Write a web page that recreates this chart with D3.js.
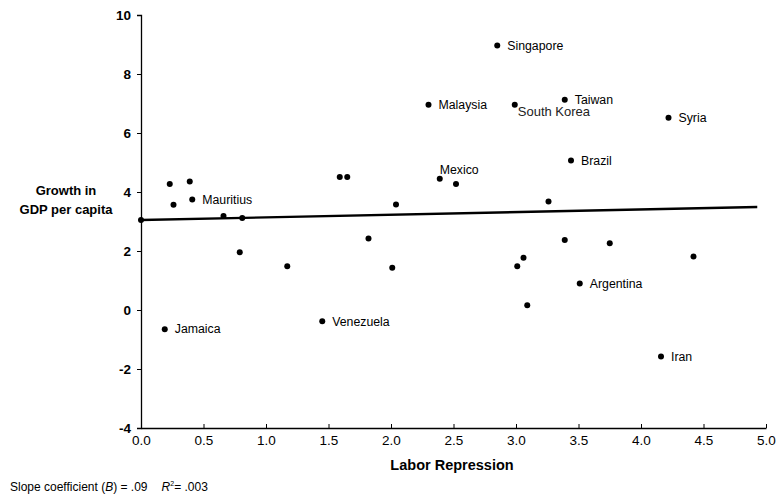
<!DOCTYPE html>
<html>
<head>
<meta charset="utf-8">
<script src="https://cdn.jsdelivr.net/npm/d3@7"></script>
<style>
  body { margin: 0; background: #fff; }
  svg { display: block; font-family: Arial, "Liberation Sans", sans-serif; }
</style>
</head>
<body>
<div id="chart"></div>
<script>
// Labor repression (x) vs growth in GDP per capita (y)
const laborRepression = [0.00, 0.23, 0.26, 0.39, 0.41, 0.66, 0.81, 0.79, 0.19, 1.17, 1.45, 1.59, 1.65, 1.82, 2.01, 2.04, 2.30, 2.39, 2.52, 2.85, 2.99, 3.01, 3.06, 3.09, 3.26, 3.39, 3.39, 3.44, 3.51, 3.75, 4.16, 4.22, 4.42];
const gdpGrowth      = [3.05, 4.27, 3.57, 4.36, 3.75, 3.19, 3.12, 1.96, -0.65, 1.48, -0.38, 4.51, 4.51, 2.42, 1.43, 3.58, 6.96, 4.45, 4.27, 8.97, 6.96, 1.48, 1.77, 0.16, 3.68, 7.13, 2.37, 5.07, 0.90, 2.26, -1.58, 6.52, 1.81];
const countryNames   = ["", "", "", "", "Mauritius", "", "", "", "Jamaica", "", "Venezuela", "", "", "", "", "", "Malaysia", "Mexico", "", "Singapore", "South Korea", "", "", "", "", "Taiwan", "", "Brazil", "Argentina", "", "Iran", "Syria", ""];

const xTicks = [0, 0.5, 1, 1.5, 2, 2.5, 3, 3.5, 4, 4.5, 5];
const yTicks = [-4, -2, 0, 2, 4, 6, 8, 10];

// regression: intercept and slope
const intercept = 3.05;
const slope = 0.09;
const fitRange = [0, 4.93];

const width = 779, height = 497;
const svg = d3.select('#chart').append('svg')
    .attr('width', width)
    .attr('height', height);

const x = d3.scaleLinear().domain([0, 5]).range([141, 766]);
const y = d3.scaleLinear().domain([-4, 10]).range([428, 15]);

const narrow = '"Liberation Sans Narrow", "Arial Narrow", Arial, sans-serif';

// y axis (plain hyphen for negatives, like the original)
const yAxis = svg.append('g')
    .attr('transform', `translate(${x(0)},0)`)
    .call(d3.axisLeft(y).tickValues(yTicks).tickSize(4).tickPadding(6).tickFormat(d => String(d)));
yAxis.select('.domain').attr('stroke', '#000').attr('stroke-width', 1.3);
yAxis.selectAll('text').attr('font-size', 13.5).attr('font-weight', 'bold').attr('fill', '#000');

// x axis (ticks pointing up)
const xAxis = svg.append('g')
    .attr('transform', `translate(0,${y(-4)})`)
    .call(d3.axisBottom(x).tickValues(xTicks).tickSizeInner(-4).tickSizeOuter(0).tickPadding(7).tickFormat(d3.format('.1f')));
xAxis.select('.domain').attr('stroke', '#000').attr('stroke-width', 1.6);
xAxis.selectAll('text').attr('font-size', 13.5).attr('font-family', narrow).attr('fill', '#000');

// fitted line
svg.append('line')
    .attr('x1', x(fitRange[0])).attr('y1', y(intercept + slope * fitRange[0]))
    .attr('x2', x(fitRange[1])).attr('y2', y(intercept + slope * fitRange[1]))
    .attr('stroke', '#000')
    .attr('stroke-width', 2.4);

const points = laborRepression.map((v, i) => ({ x: v, y: gdpGrowth[i], name: countryNames[i] }));

svg.selectAll('.dot')
    .data(points)
    .enter()
    .append('circle')
    .attr('class', 'dot')
    .attr('cx', d => x(d.x))
    .attr('cy', d => y(d.y))
    .attr('r', 3)
    .attr('fill', '#000');

// label offsets: South Korea below-right, Mexico above
const labelDx = d => d.name === 'South Korea' ? 3 : d.name === 'Mexico' ? 0 : 10;
const labelDy = d => d.name === 'South Korea' ? 11 : d.name === 'Mexico' ? -9 : 0;

svg.selectAll('.lbl')
    .data(points.filter(d => d.name))
    .enter()
    .append('text')
    .attr('class', 'lbl')
    .attr('x', d => x(d.x) + labelDx(d))
    .attr('y', d => y(d.y) + labelDy(d))
    .attr('dy', d => d.name === 'South Korea' ? 0 : '0.35em')
    .attr('font-size', d => d.name === 'South Korea' ? 13 : 12.3)
    .attr('fill', d => d.name === 'South Korea' ? '#222' : '#000')
    .text(d => d.name);

// axis titles
svg.append('text')
    .attr('x', 452).attr('y', 470)
    .attr('text-anchor', 'middle')
    .attr('font-family', narrow)
    .attr('font-weight', 'bold')
    .attr('font-size', 14.5)
    .text('Labor Repression');

const yTitle = svg.append('text')
    .attr('text-anchor', 'middle')
    .attr('font-weight', 'bold')
    .attr('font-size', 13);
yTitle.append('tspan').attr('x', 66).attr('y', 195).text('Growth in');
yTitle.append('tspan').attr('x', 66).attr('y', 214).text('GDP per capita');

// footnote
const note = svg.append('text')
    .attr('x', 10).attr('y', 491)
    .attr('font-family', narrow)
    .attr('font-size', 12);
note.append('tspan').text('Slope coefficient (');
note.append('tspan').attr('font-style', 'italic').text('B');
note.append('tspan').text(') = .09');
note.append('tspan').attr('dx', 14).attr('font-style', 'italic').text('R');
note.append('tspan').attr('font-size', 7).attr('dy', -5).text('2');
note.append('tspan').attr('dy', 5).text('= .003');
</script>
</body>
</html>
